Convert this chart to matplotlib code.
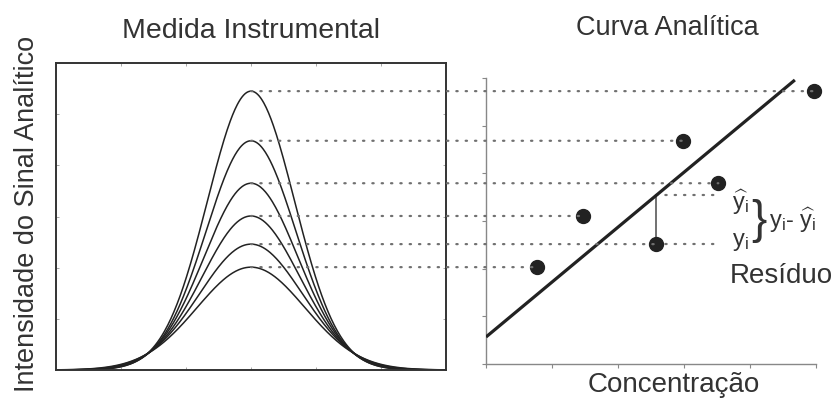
import numpy as np
import matplotlib
matplotlib.use("Agg")
from matplotlib import pyplot as plt
from matplotlib.patches import ConnectionPatch

plt.rcParams['font.family'] = ['Liberation Sans', 'DejaVu Sans']
plt.rcParams['mathtext.fontset'] = 'custom'
plt.rcParams['mathtext.rm'] = 'Liberation Sans'
plt.rcParams['mathtext.it'] = 'Liberation Sans'

# peak heights (signal intensity) and widths of the instrumental measurements
peak_heights = [5.45, 4.48, 3.65, 3.01, 2.46, 2.01]
peak_widths = [0.67, 0.69, 0.72, 0.75, 0.79, 0.83]
peak_center = 3.0
# concentrations of each standard (same order as peak_heights)
concentrations = [4.97, 2.98, 3.52, 1.47, 2.58, 0.77]
# analytical curve drawn through two points
curve_x = [0.0, 4.68]
curve_y = [0.645, 5.668]
residual_index = 4      # the point whose residual is shown
residual_end_x = 3.52   # where the y_i / y-hat dotted guides end

W, H = 835, 401
TXT = '#333333'
INK = '#222222'
DOT = '#707070'
DOTS = (0, (0.6, 3.6))
DOT_LW = 1.6


def px(x, y):
    return x / W, 1 - y / H


fig = plt.figure(figsize=(W / 100, H / 100), dpi=100)

# left panel: instrumental measurement
l_left, l_top, l_right, l_bot = 56, 63, 446, 370
ax1 = fig.add_axes([l_left / W, 1 - l_bot / H, (l_right - l_left) / W, (l_bot - l_top) / H])
x = np.linspace(0, 6, 500)
for h, w in zip(peak_heights, peak_widths):
    ax1.plot(x, h * np.exp(-(x - peak_center) ** 2 / (2 * w ** 2)), color=INK, lw=1.1)
ax1.set_xlim(0, 6)
ax1.set_ylim(0, 6)
ax1.set_xticks(range(1, 6))
ax1.set_yticks(range(1, 6))
ax1.tick_params(direction='in', length=2.5, width=0.6, color='#999999',
                top=True, right=True, labelbottom=False, labelleft=False)
for s in ax1.spines.values():
    s.set_color('#333333')
    s.set_linewidth(1.4)

# right panel: analytical curve, y range aligned with the left panel
r_left, r_top, r_right, r_bot = 486, 78, 816, 364
ax2 = fig.add_axes([r_left / W, 1 - r_bot / H, (r_right - r_left) / W, (r_bot - r_top) / H])
per_px = 6 / (l_bot - l_top)
ylo, yhi = (l_bot - r_bot) * per_px, (l_bot - r_top) * per_px
ax2.set_xlim(0, 5)
ax2.set_ylim(ylo, yhi)
ax2.set_xticks(range(0, 6))
ax2.set_yticks(np.linspace(ylo, yhi, 7))
ax2.tick_params(direction='out', length=3, width=0.8, color='#888888',
                labelbottom=False, labelleft=False)
ax2.spines['top'].set_visible(False)
ax2.spines['right'].set_visible(False)
for side in ['left', 'bottom']:
    ax2.spines[side].set_color('#888888')
    ax2.spines[side].set_linewidth(1.0)

ax2.plot(curve_x, curve_y, color=INK, lw=2.3, solid_capstyle='butt', zorder=3)
ax2.scatter(concentrations, peak_heights, s=100, color=INK, zorder=4, clip_on=False)

# residual
slope = (curve_y[1] - curve_y[0]) / (curve_x[1] - curve_x[0])
rx = concentrations[residual_index]
ry = peak_heights[residual_index]
yhat = curve_y[0] + slope * (rx - curve_x[0])
ax2.plot([rx, rx], [ry, yhat], color='#666666', lw=1.3, zorder=2)
ax2.plot([rx, residual_end_x], [yhat, yhat], color=DOT, lw=DOT_LW, ls=DOTS,
         dash_capstyle='round')
ax2.plot([rx, residual_end_x], [ry, ry], color=DOT, lw=DOT_LW, ls=DOTS,
         dash_capstyle='round')

# dotted guides from each peak top to its calibration point
for h, c in zip(peak_heights, concentrations):
    con = ConnectionPatch(xyA=(peak_center, h), coordsA=ax1.transData,
                          xyB=(c, h), coordsB=ax2.transData,
                          color=DOT, lw=DOT_LW, ls=DOTS, arrowstyle='-',
                          capstyle='round')
    fig.add_artist(con)

# texts
fig.text(*px(251, 38), 'Medida Instrumental', ha='center', va='baseline', fontsize=20.5, color=TXT)
fig.text(*px(667, 35), 'Curva Analítica', ha='center', va='baseline', fontsize=19.5, color=TXT)
fig.text(*px(674, 392), 'Concentração', ha='center', va='baseline', fontsize=20, color=TXT)
fig.text(*px(27, 214), 'Intensidade do Sinal Analítico', ha='center', va='center',
         rotation=90, fontsize=19.5, color=TXT)
fig.text(*px(732, 210), r'$\widehat{\mathrm{y}}_{\mathrm{i}}$', ha='left', va='baseline', fontsize=17, color=TXT)
fig.text(*px(732, 246), r'$\mathrm{y}_{\mathrm{i}}$', ha='left', va='baseline', fontsize=17, color=TXT)
fig.text(*px(759, 221), '}', ha='center', va='center', fontsize=33, color=TXT)
fig.text(*px(769, 228), r'$\mathrm{y}_{\mathrm{i}}$- $\widehat{\mathrm{y}}_{\mathrm{i}}$',
         ha='left', va='baseline', fontsize=17, color=TXT)
fig.text(*px(730, 283), 'Resíduo', ha='left', va='baseline', fontsize=20, color=TXT)

fig.savefig('out.png', dpi=100)
